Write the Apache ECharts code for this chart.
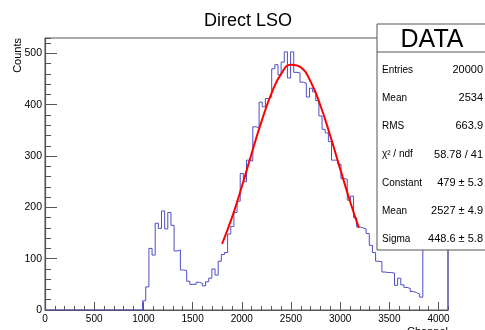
<!DOCTYPE html>
<html>
<head>
<meta charset="utf-8">
<script src="https://cdn.jsdelivr.net/npm/echarts@6/dist/echarts.min.js"></script>
<style>
  html, body { margin: 0; padding: 0; background: #fff; }
  #main { width: 485px; height: 330px; }
</style>
</head>
<body>
<div id="main"></div>
<script>
// histogram: 128 bins of 32 channels (0..4096)
const binWidth = 32;
const counts = [
  0, 0, 0, 0, 0, 0, 0, 0, 0, 0,
  0, 0, 0, 0, 0, 0, 0, 0, 0, 0,
  0, 0, 0, 0, 0, 0, 0, 0, 0, 0,
  0, 18, 45, 120, 107, 169, 159, 193, 158, 190,
  165, 115, 117, 78, 77, 56, 50, 50, 54, 52,
  47, 55, 62, 80, 68, 95, 108, 112, 148, 163,
  190, 212, 266, 250, 292, 290, 357, 355, 405, 396,
  412, 415, 470, 478, 458, 483, 503, 452, 503, 463,
  462, 444, 442, 415, 432, 425, 408, 378, 352, 345,
  328, 292, 292, 284, 256, 255, 214, 222, 180, 162,
  160, 158, 149, 126, 112, 95, 94, 74, 73, 73,
  72, 48, 62, 49, 44, 42, 36, 34, 31, 25,
  140, 140, 140, 140, 140, 140, 140, 140
];
// red fit curve
const fitChannels = [1800, 1900, 2000, 2100, 2200, 2300, 2400, 2500, 2600, 2700, 2800, 2900, 3000, 3100, 3190];
const fitValues   = [129, 180, 240, 305, 367, 421, 460, 478, 473, 445, 398, 339, 275, 212, 160];

const statLabels = ['Entries', 'Mean', 'RMS', 'χ² / ndf', 'Constant', 'Mean', 'Sigma'];
const statValues = ['20000', '2534', '663.9', '58.78 / 41', '479 ± 5.3', '2527 ± 4.9', '448.6 ± 5.8'];

const font = '"Liberation Sans", Arial, Helvetica, sans-serif';
const axisGray = '#555';

const histData = counts.map((c, i) => [i * binWidth, c]);
histData.push([counts.length * binWidth, 0]);
const fitData = fitChannels.map((ch, i) => [ch, fitValues[i]]);

const chart = echarts.init(document.getElementById('main'));

const statTexts = [];
statLabels.forEach((lab, i) => {
  const y = 70 + i * 28.2;
  statTexts.push({
    type: 'text', z: 102,
    style: {text: lab, x: 382, y: y, font: '10px ' + font, fill: '#000',
      textAlign: 'left', align: 'left', textVerticalAlign: 'middle', verticalAlign: 'middle'}
  });
  statTexts.push({
    type: 'text', z: 102,
    style: {text: statValues[i], x: 483, y: y, font: '11px ' + font, fill: '#000',
      textAlign: 'right', align: 'right', textVerticalAlign: 'middle', verticalAlign: 'middle'}
  });
});

chart.setOption({
  animation: false,
  grid: {
    left: 45, top: 38, right: 37, bottom: 20,
    show: true, borderColor: axisGray, borderWidth: 1, backgroundColor: '#fff'
  },
  xAxis: [
    {
      type: 'value', min: 0, max: 4096, interval: 500,
      axisLine: {show: true, lineStyle: {color: axisGray, width: 1.2}},
      axisTick: {show: true, inside: true, length: 8, lineStyle: {color: axisGray}},
      axisLabel: {show: true, showMaxLabel: false, margin: 4, color: '#000', fontSize: 10, fontFamily: font,
        formatter: v => String(v)},
      splitLine: {show: false}
    },
    {
      type: 'value', min: 0, max: 4096, interval: 100, position: 'bottom',
      axisLine: {show: false},
      axisTick: {show: true, inside: true, length: 4, lineStyle: {color: axisGray}},
      axisLabel: {show: false},
      splitLine: {show: false}
    }
  ],
  yAxis: [
    {
      type: 'value', min: 0, max: 530, interval: 100,
      axisLine: {show: true, lineStyle: {color: axisGray, width: 1.2}},
      axisTick: {show: true, inside: true, length: 12, lineStyle: {color: axisGray}},
      axisLabel: {show: true, showMaxLabel: false, margin: 3, color: '#000', fontSize: 10.5, fontFamily: font,
        formatter: v => String(v)},
      splitLine: {show: false}
    },
    {
      type: 'value', min: 0, max: 530, interval: 20, position: 'left',
      axisLine: {show: false},
      axisTick: {show: true, inside: true, length: 6, lineStyle: {color: axisGray}},
      axisLabel: {show: false},
      splitLine: {show: false}
    }
  ],
  series: [
    {
      type: 'line', step: 'end', data: histData,
      xAxisIndex: 0, yAxisIndex: 0,
      symbol: 'none',
      lineStyle: {color: '#4f4fc6', width: 1}
    },
    {
      type: 'line', smooth: true, data: fitData,
      xAxisIndex: 0, yAxisIndex: 0,
      symbol: 'none',
      lineStyle: {color: '#ff0000', width: 2}
    }
  ],
  graphic: [
    {
      type: 'text', z: 100,
      style: {text: 'Direct LSO', x: 248, y: 21, font: '18px ' + font, fill: '#000',
        textAlign: 'center', align: 'center', textVerticalAlign: 'middle', verticalAlign: 'middle'}
    },
    {
      type: 'text', z: 100, x: 18, y: 38, rotation: Math.PI / 2,
      style: {text: 'Counts', x: 0, y: 0, font: '11px ' + font, fill: '#000',
        textAlign: 'right', align: 'right', textVerticalAlign: 'middle', verticalAlign: 'middle'}
    },
    {
      type: 'text', z: 100,
      style: {text: 'Channel', x: 448, y: 332, font: '11px ' + font, fill: '#000',
        textAlign: 'right', align: 'right', textVerticalAlign: 'middle', verticalAlign: 'middle'}
    },
    {
      type: 'rect', z: 101,
      shape: {x: 377, y: 24, width: 120, height: 226},
      style: {fill: '#fff', stroke: axisGray, lineWidth: 1}
    },
    {
      type: 'line', z: 102,
      shape: {x1: 377, y1: 52, x2: 485, y2: 52},
      style: {stroke: axisGray, lineWidth: 1}
    },
    {
      type: 'text', z: 102,
      style: {text: 'DATA', x: 432, y: 40, font: '25px ' + font, fill: '#000',
        textAlign: 'center', align: 'center', textVerticalAlign: 'middle', verticalAlign: 'middle'}
    }
  ].concat(statTexts)
});
</script>
</body>
</html>
